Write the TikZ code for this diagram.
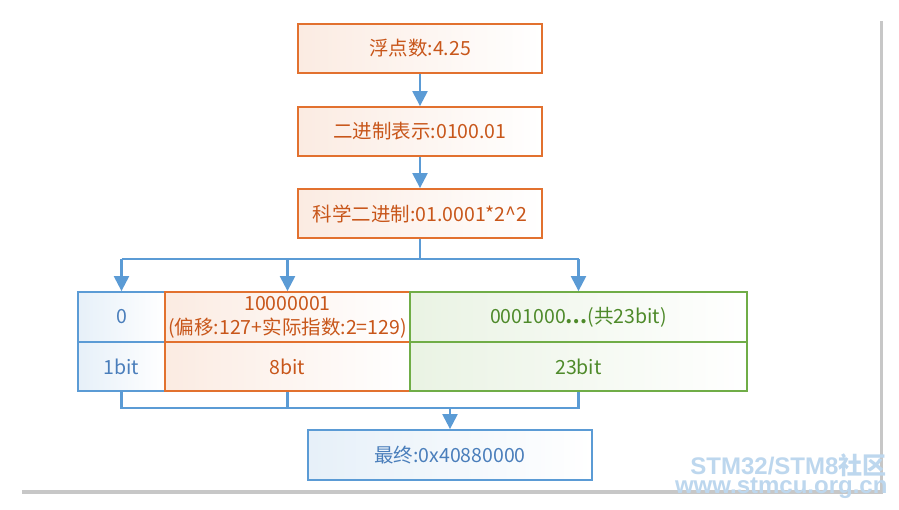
\documentclass[tikz,border=0pt]{standalone}
\usepackage{fontspec}
\setmainfont{Liberation Sans}
\newfontfamily\cjk{Noto Sans CJK SC}
\usetikzlibrary{arrows.meta,shadows}
\definecolor{oline}{HTML}{E2712F}
\definecolor{otext}{HTML}{C8561A}
\definecolor{bline}{HTML}{5B9BD5}
\definecolor{btext}{HTML}{4A7EBB}
\definecolor{gline}{HTML}{70AD47}
\definecolor{gtext}{HTML}{4E8A2A}
\tikzset{
 box/.style={draw, line width=1.8pt, minimum height=49pt, inner sep=0pt, align=center, font=\cjk\fontsize{19.5}{24}\selectfont, shading angle=135},
 obox/.style={box, draw=oline, text=otext, left color=oline!14, right color=white},
 bbox/.style={box, draw=bline, text=btext, left color=bline!15, right color=white},
 gbox/.style={box, draw=gline, text=gtext, left color=gline!15, right color=white},
 conn/.style={draw=bline, line width=2.3pt},
 arr/.style={conn, -{Triangle[width=15pt,length=15pt]}}
}
\begin{document}
\begin{tikzpicture}[x=1pt,y=-1pt]
\useasboundingbox (0,0) rectangle (899,510);
\fill[black!22] (22,21) rectangle (883,494);
\fill[white] (20,18) rectangle (880,490);
\node[obox, minimum width=244pt] (a) at (420,48.5) {浮点数:4.25};
\node[obox, minimum width=244pt] (b) at (420,131.5) {二进制表示:0100.01};
\node[obox, minimum width=244pt] (c) at (420,213.5) {科学二进制:01.0001*2\^{}2};
\node[bbox, minimum width=87pt, minimum height=50pt] (s1) at (121.5,317) {0};
\node[bbox, minimum width=87pt] (s2) at (121.5,366.5) {1bit};
\node[obox, minimum width=245pt, minimum height=50pt] (e1) at (287.5,317) {10000001\\(偏移:127+实际指数:2=129)};
\node[obox, minimum width=245pt] (e2) at (287.5,366.5) {8bit};
\node[gbox, minimum width=337pt, minimum height=50pt] (m1) at (578.5,317) {0001000\textbf{⋯}(共23bit)};
\node[gbox, minimum width=337pt] (m2) at (578.5,366.5) {23bit};
\node[bbox, minimum width=284pt, minimum height=50pt] (f) at (450,455) {最终:0x40880000};
\coordinate (j1) at (420,259);
\coordinate (j2) at (450,408);
\draw[arr] (a) -- (b);
\draw[arr] (b) -- (c);
\draw[conn] (c.south) -- (j1);
\draw[conn] (s1.north |- j1) -- (m1.north |- j1);
\draw[arr] (s1.north |- j1) -- (s1.north);
\draw[arr] (e1.north |- j1) -- (e1.north);
\draw[arr] (m1.north |- j1) -- (m1.north);
\draw[conn] (s2.south) -- (s2.south |- j2) -- (m2.south |- j2) -- (m2.south);
\draw[conn] (e2.south) -- (e2.south |- j2);
\draw[arr] (j2) -- (f.north);
\node[text=bline!40, font=\bfseries\fontsize{24}{26}\selectfont, anchor=east] (w1) at (890,465) {STM32/STM8{\cjk 社区}};
\node[text=bline!40, font=\bfseries\fontsize{24}{26}\selectfont, anchor=east] (w2) at (891,488) {www.stmcu.org.cn};
\end{tikzpicture}
\end{document}
